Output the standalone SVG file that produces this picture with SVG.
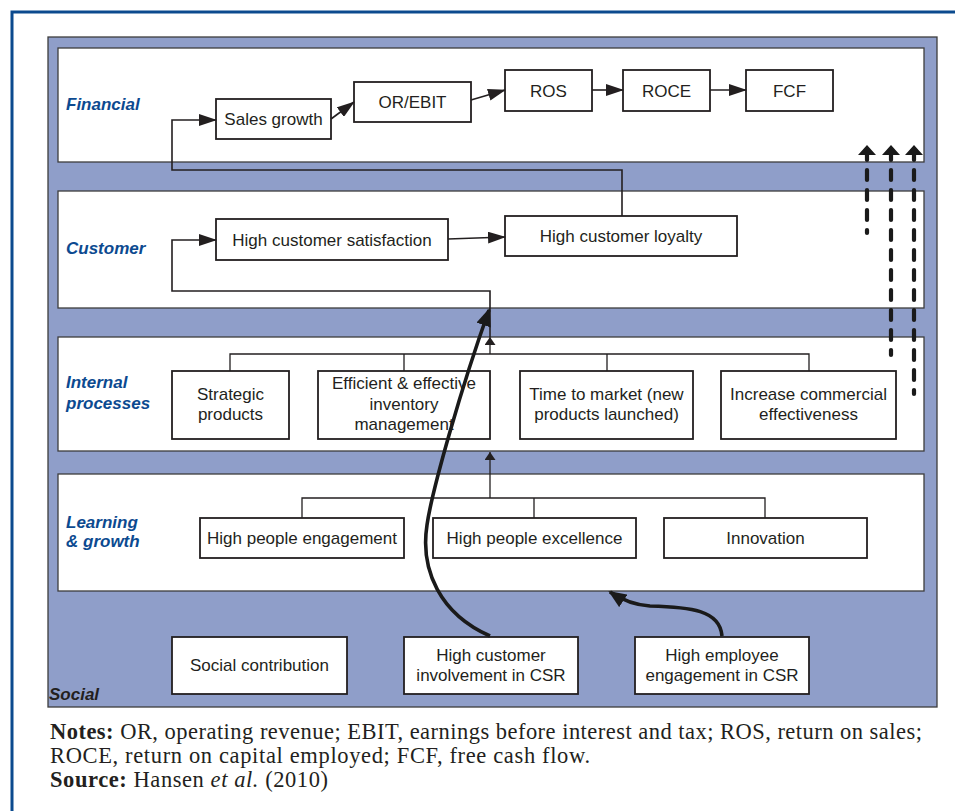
<svg xmlns="http://www.w3.org/2000/svg" width="955" height="811" viewBox="0 0 955 811">
<style>
.panel{fill:#fff;stroke:#3d3d3d;stroke-width:1.3}
.box{fill:#fff;stroke:#231f20;stroke-width:1.8}
.t{font-family:"Liberation Sans",Arial,sans-serif;font-size:17px;fill:#231f20;text-anchor:middle}
.lbl{font-family:"Liberation Sans",Arial,sans-serif;font-size:17px;font-weight:bold;font-style:italic;fill:#0c4a90}
.ln{fill:none;stroke:#231f20;stroke-width:1.6}
.bar{fill:none;stroke:#231f20;stroke-width:1.3}
.big{fill:none;stroke:#1a1a1a;stroke-width:3.6}
.dash{fill:none;stroke:#1a1a1a;stroke-width:4.2;stroke-dasharray:10 10;stroke-linecap:round}
.note{font-family:"Liberation Serif","Times New Roman",serif;font-size:22.5px;fill:#231f20}
</style>
<defs>
<marker id="ah" markerUnits="userSpaceOnUse" markerWidth="18" markerHeight="12" refX="17" refY="6" orient="auto"><path d="M0,0 L18,6 L0,12 z" fill="#231f20"/></marker>
<marker id="ahs" markerUnits="userSpaceOnUse" markerWidth="8" markerHeight="11" refX="8" refY="5.5" orient="auto"><path d="M0,0 L8,5.5 L0,11 z" fill="#231f20"/></marker>
<marker id="ahb" markerUnits="userSpaceOnUse" markerWidth="18" markerHeight="15" refX="16" refY="7.5" orient="auto"><path d="M0,0 L18,7.5 L0,15 z" fill="#1a1a1a"/></marker>
</defs>
<rect width="955" height="811" fill="#fff"/>
<rect x="12" y="12" width="970" height="830" fill="none" stroke="#0b4a8e" stroke-width="3"/>

<g id="social-panel">
<rect x="48" y="37" width="889" height="670" fill="#8f9ec9" stroke="#3d3d3d" stroke-width="1.3"/>
<text class="lbl" x="49" y="700" style="fill:#231f20">Social</text>
</g>
<g id="financial-panel"><rect class="panel" x="58" y="48" width="866" height="114"/><text class="lbl" x="66" y="110">Financial</text></g>
<g id="customer-panel"><rect class="panel" x="58" y="191" width="866" height="117"/><text class="lbl" x="66" y="254">Customer</text></g>
<g id="internal-panel"><rect class="panel" x="58" y="337" width="866" height="114"/><text class="lbl" x="66" y="388">Internal</text><text class="lbl" x="66" y="409">processes</text></g>
<g id="learning-panel"><rect class="panel" x="58" y="474" width="866" height="117"/><text class="lbl" x="66" y="528">Learning</text><text class="lbl" x="66" y="547">&amp; growth</text></g>

<g id="sales-growth"><rect class="box" x="216" y="99" width="115" height="40"/><text class="t" x="273.5" y="125">Sales growth</text></g>
<g id="or-ebit"><rect class="box" x="354" y="82" width="117" height="40"/><text class="t" x="412.5" y="108">OR/EBIT</text></g>
<g id="ros"><rect class="box" x="505" y="70" width="87" height="41"/><text class="t" x="548.5" y="96.5">ROS</text></g>
<g id="roce"><rect class="box" x="623" y="70" width="87" height="41"/><text class="t" x="666.5" y="96.5">ROCE</text></g>
<g id="fcf"><rect class="box" x="746" y="70" width="87" height="41"/><text class="t" x="789.5" y="96.5">FCF</text></g>

<g id="cust-satisfaction"><rect class="box" x="216" y="219" width="232" height="41"/><text class="t" x="332" y="245.5">High customer satisfaction</text></g>
<g id="cust-loyalty"><rect class="box" x="505" y="216" width="232" height="40"/><text class="t" x="621" y="242">High customer loyalty</text></g>

<g id="strategic-products"><rect class="box" x="172" y="371" width="117" height="68"/><text class="t" x="230.5" y="400">Strategic</text><text class="t" x="230.5" y="420">products</text></g>
<g id="inventory"><rect class="box" x="318" y="371" width="172" height="68"/><text class="t" x="404" y="389">Efficient &amp; effective</text><text class="t" x="404" y="410">inventory</text><text class="t" x="404" y="430">management</text></g>
<g id="time-to-market"><rect class="box" x="520" y="371" width="173" height="68"/><text class="t" x="606.5" y="400">Time to market (new</text><text class="t" x="606.5" y="420">products launched)</text></g>
<g id="commercial"><rect class="box" x="721" y="371" width="175" height="68"/><text class="t" x="808.5" y="400">Increase commercial</text><text class="t" x="808.5" y="420">effectiveness</text></g>

<g id="people-engagement"><rect class="box" x="200" y="518" width="204" height="40"/><text class="t" x="302" y="544">High people engagement</text></g>
<g id="people-excellence"><rect class="box" x="433" y="518" width="203" height="40"/><text class="t" x="534.5" y="544">High people excellence</text></g>
<g id="innovation"><rect class="box" x="664" y="518" width="203" height="40"/><text class="t" x="765.5" y="544">Innovation</text></g>

<g id="social-contribution"><rect class="box" x="172" y="637" width="175" height="57"/><text class="t" x="259.5" y="671">Social contribution</text></g>
<g id="customer-csr"><rect class="box" x="404" y="637" width="174" height="57"/><text class="t" x="491" y="661">High customer</text><text class="t" x="491" y="681">involvement in CSR</text></g>
<g id="employee-csr"><rect class="box" x="635" y="637" width="174" height="57"/><text class="t" x="722" y="661">High employee</text><text class="t" x="722" y="681">engagement in CSR</text></g>

<g id="connectors">
<path class="ln" d="M331,119 L354,102" marker-end="url(#ah)"/>
<path class="ln" d="M471,100 L505,90" marker-end="url(#ah)"/>
<path class="ln" d="M592,90 H623" marker-end="url(#ah)"/>
<path class="ln" d="M710,90 H746" marker-end="url(#ah)"/>
<path class="ln" d="M622,216 V170 H172 V120 H216" marker-end="url(#ah)"/>
<path class="ln" d="M448,239 L505,237" marker-end="url(#ah)"/>
<path class="bar" d="M230,371 V354 H809 V371 M404,371 V354 M607,371 V354"/>
<path class="bar" d="M490,354 V337" marker-end="url(#ahs)"/>
<path class="ln" d="M490,337 V291 H172 V240 H216" marker-end="url(#ah)"/>
<path class="bar" d="M302,518 V498 H765 V518 M534,518 V498"/>
<path class="bar" d="M490,498 V452" marker-end="url(#ahs)"/>
<path class="big" d="M490,636 C440,614 420,570 427,525 C432,490 462,385 489,310" marker-end="url(#ahb)"/>
<path class="big" d="M722,636 C720,610 690,607 650,606 C635,605 622,600 610,592" marker-end="url(#ahb)"/>
<path class="dash" d="M867,150 V233"/>
<path class="dash" d="M891,150 V355"/>
<path class="dash" d="M914,150 V394"/>
<path d="M858,155 L867,145 L876,155 z M882,155 L891,145 L900,155 z M905,155 L914,145 L923,155 z" fill="#1a1a1a"/>
</g>

<g id="notes">
<text class="note" x="50" y="739" textLength="872" lengthAdjust="spacing"><tspan font-weight="bold">Notes:</tspan> OR, operating revenue; EBIT, earnings before interest and tax; ROS, return on sales;</text>
<text class="note" x="50" y="763" textLength="540" lengthAdjust="spacing">ROCE, return on capital employed; FCF, free cash flow.</text>
<text class="note" x="50" y="787" textLength="278" lengthAdjust="spacing"><tspan font-weight="bold">Source:</tspan> Hansen <tspan font-style="italic">et al.</tspan> (2010)</text>
</g>
</svg>
